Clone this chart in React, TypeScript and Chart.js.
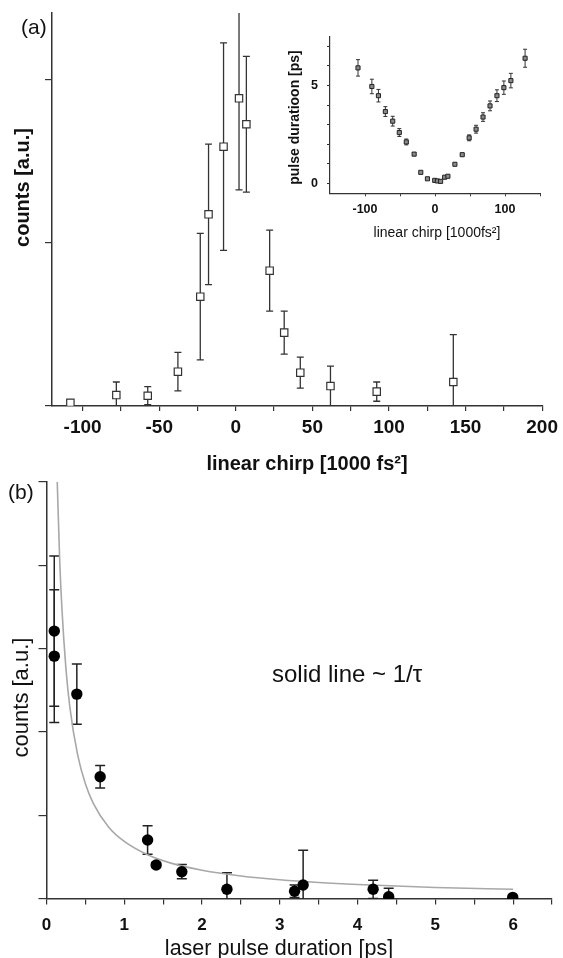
import React, { useEffect, useRef } from 'react';
import { Chart, registerables } from 'chart.js';

Chart.register(...registerables);

// ---------- Panel (a): main ----------
const chirpA = [-108, -78, -57.5, -37.8, -23.2, -17.8, -8, 2.1, 6.9, 22.1, 31.6, 42.1, 61.8, 92, 142];
const countsA = [0.02, 0.067, 0.063, 0.21, 0.669, 1.173, 1.587, 1.883, 1.724, 0.828, 0.449, 0.204, 0.122, 0.088, 0.147];
const countsAErr = [0.012, 0.08, 0.055, 0.118, 0.387, 0.43, 0.635, 0.56, 0.415, 0.248, 0.131, 0.095, 0.122, 0.059, 0.29];
const chirpTicksA = [-100, -75, -50, -25, 0, 25, 50, 75, 100, 125, 150, 175, 200];
const countsTicksA = [0, 1, 2];

// ---------- Panel (a): inset ----------
const chirpInset = [-110, -90.2, -80.8, -70.9, -60.4, -51, -41, -29.8, -20.3, -10.8, -0.4, 3.4, 8, 13.8, 18.4, 28.4, 38.9, 48.8, 58.7, 68.6, 78.6, 88.5, 98.4, 108.4, 128.7];
const durationInset = [5.9, 4.95, 4.48, 3.67, 3.18, 2.6, 2.12, 1.5, 0.57, 0.24, 0.16, 0.13, 0.11, 0.32, 0.37, 0.98, 1.47, 2.33, 2.77, 3.39, 3.96, 4.48, 4.89, 5.25, 6.39];
const durationInsetErr = [0.42, 0.37, 0.32, 0.25, 0.25, 0.2, 0.15, 0.08, 0, 0, 0, 0, 0, 0, 0, 0, 0.05, 0.15, 0.2, 0.22, 0.25, 0.3, 0.34, 0.37, 0.46];
const chirpTicksInset = [-100, -50, 0, 50, 100, 150];
const durationTicksInset = [0, 1, 2, 3, 4, 5, 6, 7];

// ---------- Panel (b) ----------
const durationB = [0.1, 0.1, 0.39, 0.69, 1.3, 1.41, 1.74, 2.32, 3.19, 3.3, 4.2, 4.4, 5.995];
const countsB = [3.21, 2.91, 2.455, 1.465, 0.707, 0.407, 0.327, 0.116, 0.092, 0.168, 0.116, 0.028, 0.02];
const countsBErr = [0.9, 0.795, 0.36, 0.135, 0.17, 0.03, 0.085, 0.2, 0.075, 0.415, 0.11, 0.1, 0];
const fitDuration = [0.138, 0.17, 0.2, 0.25, 0.3, 0.4, 0.5, 0.6, 0.8, 1.0, 1.3, 1.6, 2.0, 2.5, 3.0, 3.5, 4.0, 5.0, 6.0];
const fitCounts = [5.0, 4.05, 3.45, 2.76, 2.3, 1.73, 1.38, 1.15, 0.86, 0.69, 0.53, 0.43, 0.345, 0.276, 0.23, 0.197, 0.173, 0.138, 0.116];
const durationTicksB = [0, 0.5, 1, 1.5, 2, 2.5, 3, 3.5, 4, 4.5, 5, 5.5, 6, 6.5];
const countsTicksB = [0, 1, 2, 3, 4, 5];

const FONT = "'Liberation Sans', Arial, Helvetica, sans-serif";
const AXIS = '#333';
const TEXT = '#111';

const errorBarPlugin = {
  id: 'errorBars',
  beforeDatasetsDraw(chart: any) {
    const ctx = chart.ctx;
    const area = chart.chartArea;
    const xs = chart.scales.x;
    const ys = chart.scales.y;
    ctx.save();
    ctx.beginPath();
    ctx.rect(area.left, area.top, area.right - area.left, area.bottom - area.top);
    ctx.clip();
    chart.data.datasets.forEach((ds: any) => {
      const eb = ds.errorBars;
      if (!eb) return;
      ctx.strokeStyle = eb.color;
      ctx.lineWidth = eb.width;
      ds.data.forEach((p: any, i: number) => {
        const e = eb.values[i];
        if (!e) return;
        const px = xs.getPixelForValue(p.x);
        const top = ys.getPixelForValue(p.y + e);
        const bot = ys.getPixelForValue(p.y - e);
        ctx.beginPath();
        ctx.moveTo(px, top);
        ctx.lineTo(px, bot);
        ctx.moveTo(px - eb.cap, top);
        ctx.lineTo(px + eb.cap, top);
        ctx.moveTo(px - eb.cap, bot);
        ctx.lineTo(px + eb.cap, bot);
        ctx.stroke();
      });
    });
    ctx.restore();
  },
};

const textPlugin = {
  id: 'texts',
  afterDraw(chart: any, _args: any, opts: any) {
    const items = (opts && opts.items) || [];
    const ctx = chart.ctx;
    items.forEach((t: any) => {
      ctx.save();
      ctx.fillStyle = TEXT;
      ctx.font = `${t.weight || 'normal'} ${t.size}px ${FONT}`;
      ctx.textAlign = t.align || 'center';
      ctx.textBaseline = t.baseline || 'alphabetic';
      ctx.translate(t.x, t.y);
      if (t.rotate) ctx.rotate(-Math.PI / 2);
      ctx.fillText(t.text, 0, 0);
      ctx.restore();
    });
  },
};

function fixedTicks(values: number[]) {
  return (scale: any) => {
    scale.ticks = values.map((v) => ({ value: v }));
  };
}

function configA(): any {
  return {
    type: 'scatter',
    data: {
      datasets: [
        {
          data: chirpA.map((x, i) => ({ x, y: countsA[i] })),
          pointStyle: 'rect',
          pointRadius: 5.2,
          pointBorderWidth: 1.2,
          pointBackgroundColor: '#ffffff',
          pointBorderColor: '#333333',
          errorBars: { values: countsAErr, color: '#333', width: 1.3, cap: 3.5 },
        },
      ],
    },
    options: {
      responsive: false,
      animation: false,
      events: [],
      layout: { padding: { left: 0, top: 13, right: 19, bottom: 0 } },
      plugins: {
        legend: { display: false },
        tooltip: { enabled: false },
        texts: {
          items: [
            { text: '(a)', x: 21, y: 34, size: 21, align: 'left' },
            { text: 'counts [a.u.]', x: 23.5, y: 187.5, size: 20, weight: 'bold', rotate: true, baseline: 'middle' },
            { text: 'linear chirp [1000 fs²]', x: 307, y: 470, size: 20, weight: 'bold' },
          ],
        },
      },
      scales: {
        x: {
          type: 'linear',
          min: -120,
          max: 200,
          afterBuildTicks: fixedTicks(chirpTicksA),
          afterFit: (s: any) => { s.height = 74; },
          ticks: {
            autoSkip: false,
            maxRotation: 0,
            padding: 5,
            color: TEXT,
            font: { family: FONT, size: 19, weight: 'bold' },
            callback: (v: number) => (v % 50 === 0 ? String(v) : ''),
          },
          grid: { drawOnChartArea: false, tickLength: 5, color: AXIS, lineWidth: 1.2 },
          border: { color: AXIS, width: 1.5 },
        },
        y: {
          type: 'linear',
          min: 0,
          max: 2.405,
          afterBuildTicks: fixedTicks(countsTicksA),
          afterFit: (s: any) => { s.width = 52; },
          ticks: { callback: () => '', padding: 0 },
          grid: { drawOnChartArea: false, tickLength: 7, color: AXIS, lineWidth: 1.2 },
          border: { color: AXIS, width: 1.5 },
        },
      },
    },
    plugins: [errorBarPlugin, textPlugin],
  };
}

function configInset(): any {
  return {
    type: 'scatter',
    data: {
      datasets: [
        {
          data: chirpInset.map((x, i) => ({ x, y: durationInset[i] })),
          pointStyle: 'rect',
          pointRadius: 2.9,
          pointBorderWidth: 1,
          pointBackgroundColor: '#8a8a8a',
          pointBorderColor: '#222222',
          errorBars: { values: durationInsetErr, color: '#333', width: 1, cap: 2 },
        },
      ],
    },
    options: {
      responsive: false,
      animation: false,
      events: [],
      layout: { padding: { left: 0, top: 10, right: 23, bottom: 0 } },
      plugins: {
        legend: { display: false },
        tooltip: { enabled: false },
        texts: {
          items: [
            { text: 'pulse duratioon [ps]', x: 15, y: 97.5, size: 14, weight: 'bold', rotate: true, baseline: 'middle' },
            { text: 'linear chirp [1000fs²]', x: 157, y: 217, size: 14 },
          ],
        },
      },
      scales: {
        x: {
          type: 'linear',
          min: -150,
          max: 150,
          afterBuildTicks: fixedTicks(chirpTicksInset),
          afterFit: (s: any) => { s.height = 56.7; },
          ticks: {
            autoSkip: false,
            maxRotation: 0,
            padding: 6,
            color: TEXT,
            font: { family: FONT, size: 12.5, weight: 'bold' },
            callback: (v: number) => (v % 100 === 0 ? String(v) : ''),
          },
          grid: { drawOnChartArea: false, tickLength: 3, color: AXIS, lineWidth: 1 },
          border: { color: AXIS, width: 1.2 },
        },
        y: {
          type: 'linear',
          min: -0.5,
          max: 7.5,
          afterBuildTicks: fixedTicks(durationTicksInset),
          afterFit: (s: any) => { s.width = 50; },
          ticks: {
            padding: 9,
            color: TEXT,
            font: { family: FONT, size: 12.5, weight: 'bold' },
            callback: (v: number) => (v % 5 === 0 ? String(v) : ''),
          },
          grid: { drawOnChartArea: false, tickLength: 3, color: AXIS, lineWidth: 1 },
          border: { color: AXIS, width: 1.2 },
        },
      },
    },
    plugins: [errorBarPlugin, textPlugin],
  };
}

function configB(): any {
  return {
    type: 'scatter',
    data: {
      datasets: [
        {
          data: durationB.map((x, i) => ({ x, y: countsB[i] })),
          pointStyle: 'circle',
          pointRadius: 5.7,
          pointBorderWidth: 0,
          pointBackgroundColor: '#000000',
          pointBorderColor: '#000000',
          order: 0,
          clip: 0,
          errorBars: { values: countsBErr, color: '#222', width: 1.5, cap: 5 },
        },
        {
          data: fitDuration.map((x, i) => ({ x, y: fitCounts[i] })),
          showLine: true,
          pointRadius: 0,
          borderColor: '#a8a8a8',
          borderWidth: 1.6,
          cubicInterpolationMode: 'monotone',
          order: 1,
        },
      ],
    },
    options: {
      responsive: false,
      animation: false,
      events: [],
      layout: { padding: { left: 0, top: 11.7, right: 7.3, bottom: 0 } },
      plugins: {
        legend: { display: false },
        tooltip: { enabled: false },
        texts: {
          items: [
            { text: '(b)', x: 8, y: 29, size: 21, align: 'left' },
            { text: 'counts [a.u.]', x: 22, y: 227.5, size: 22, rotate: true, baseline: 'middle' },
            { text: 'laser pulse duration [ps]', x: 279, y: 485, size: 21.5 },
            { text: 'solid line ~ 1/τ', x: 272, y: 212, size: 24, align: 'left' },
          ],
        },
      },
      scales: {
        x: {
          type: 'linear',
          min: 0,
          max: 6.5,
          afterBuildTicks: fixedTicks(durationTicksB),
          afterFit: (s: any) => { s.height = 59; },
          ticks: {
            autoSkip: false,
            maxRotation: 0,
            padding: 11,
            color: TEXT,
            font: { family: FONT, size: 17, weight: 'bold' },
            callback: (v: number) => (Number.isInteger(v) ? String(v) : ''),
          },
          grid: { drawOnChartArea: false, tickLength: 5.5, color: AXIS, lineWidth: 1.2 },
          border: { color: AXIS, width: 1.5 },
        },
        y: {
          type: 'linear',
          min: 0,
          max: 5,
          afterBuildTicks: fixedTicks(countsTicksB),
          afterFit: (s: any) => { s.width = 46.5; },
          ticks: { callback: () => '', padding: 0 },
          grid: { drawOnChartArea: false, tickLength: 8, color: AXIS, lineWidth: 1.2 },
          border: { color: AXIS, width: 1.5 },
        },
      },
    },
    plugins: [errorBarPlugin, textPlugin],
  };
}

function ChartCanvas(props: { make: () => any; left: number; top: number; width: number; height: number }) {
  const ref = useRef<HTMLCanvasElement>(null);
  useEffect(() => {
    const chart = new Chart(ref.current as HTMLCanvasElement, props.make());
    return () => chart.destroy();
  }, []);
  return (
    <canvas
      ref={ref}
      width={props.width}
      height={props.height}
      style={{ position: 'absolute', left: props.left, top: props.top, width: props.width, height: props.height }}
    />
  );
}

export default function App() {
  return (
    <div style={{ position: 'absolute', left: 0, top: 0, width: 563, height: 958, background: '#fff', overflow: 'hidden' }}>
      <ChartCanvas make={configA} left={0} top={0} width={563} height={480} />
      <ChartCanvas make={configInset} left={280} top={20} width={283} height={230} />
      <ChartCanvas make={configB} left={0} top={470} width={563} height={488} />
    </div>
  );
}
